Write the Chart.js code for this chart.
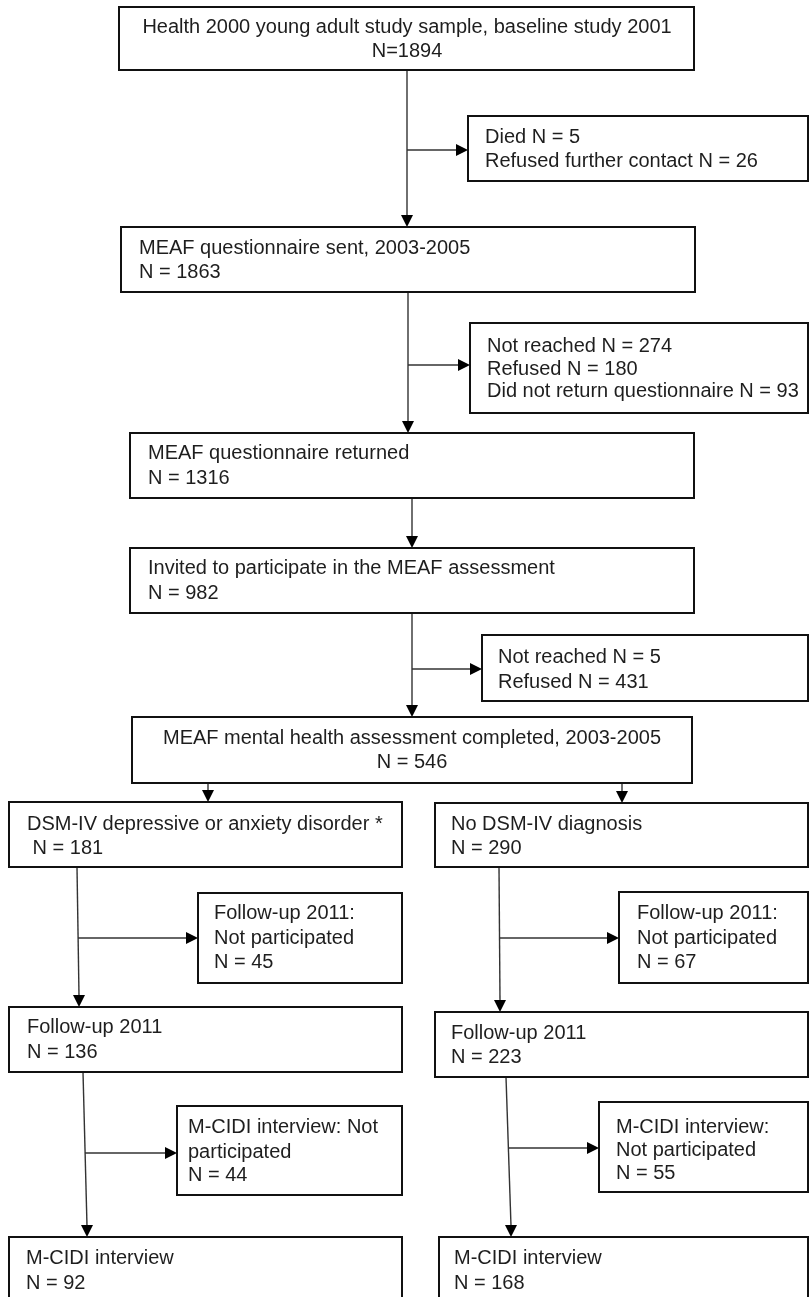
<!DOCTYPE html>
<html>
<head>
<meta charset="utf-8">
<script src="https://cdn.jsdelivr.net/npm/chart.js@4/dist/chart.umd.min.js"></script>
<style>
  html, body { margin: 0; padding: 0; background: #fff; }
  #wrap { width: 809px; height: 1297px; }
</style>
</head>
<body>
<div id="wrap"><canvas id="flow"></canvas></div>
<script>
// --- data: participants at every stage ---
const mainSteps = [
    'Health 2000 young adult study sample, baseline study 2001',
    'MEAF questionnaire sent, 2003-2005',
    'MEAF questionnaire returned',
    'Invited to participate in the MEAF assessment',
    'MEAF mental health assessment completed, 2003-2005'
];
const mainN = [1894, 1863, 1316, 982, 546];

const lossLabels1 = ['Died', 'Refused further contact'];
const lossN1 = [5, 26];
const lossLabels2 = ['Not reached', 'Refused', 'Did not return questionnaire'];
const lossN2 = [274, 180, 93];
const lossLabels3 = ['Not reached', 'Refused'];
const lossN3 = [5, 431];

const groups = ['DSM-IV depressive or anxiety disorder *', 'No DSM-IV diagnosis'];
const groupN = [181, 290];
const followUpLostN = [45, 67];
const followUpN = [136, 223];
const cidiLostN = [44, 55];
const cidiN = [92, 168];

// --- layout (in axis units, the axes run 0..809 and 0..1297) ---
const FONT = '20px "Liberation Sans", Arial, sans-serif';
const nLine = (n, tight) => tight ? `N=${n}` : `N = ${n}`;

const boxes = [
    { x0: 119, x1: 694, y0: 7, y1: 70, center: 407, rows: [27, 51],
      lines: [mainSteps[0], nLine(mainN[0], true)] },
    { x0: 468, x1: 808, y0: 116, y1: 181, tx: 485, rows: [137, 161],
      lines: lossLabels1.map((l, i) => `${l} N = ${lossN1[i]}`) },
    { x0: 121, x1: 695, y0: 227, y1: 292, tx: 139, rows: [248, 272],
      lines: [mainSteps[1], nLine(mainN[1])] },
    { x0: 470, x1: 808, y0: 323, y1: 413, tx: 487, rows: [346, 369, 391],
      lines: lossLabels2.map((l, i) => `${l} N = ${lossN2[i]}`) },
    { x0: 130, x1: 694, y0: 433, y1: 498, tx: 148, rows: [453, 478],
      lines: [mainSteps[2], nLine(mainN[2])] },
    { x0: 130, x1: 694, y0: 548, y1: 613, tx: 148, rows: [568, 593],
      lines: [mainSteps[3], nLine(mainN[3])] },
    { x0: 482, x1: 808, y0: 635, y1: 701, tx: 498, rows: [657, 682],
      lines: lossLabels3.map((l, i) => `${l} N = ${lossN3[i]}`) },
    { x0: 132, x1: 692, y0: 717, y1: 783, center: 412, rows: [738, 762],
      lines: [mainSteps[4], nLine(mainN[4])] },
    { x0: 9, x1: 402, y0: 802, y1: 867, tx: 27, rows: [824, 848],
      lines: [groups[0], ' ' + nLine(groupN[0])] },
    { x0: 435, x1: 808, y0: 803, y1: 867, tx: 451, rows: [824, 848],
      lines: [groups[1], nLine(groupN[1])] },
    { x0: 198, x1: 402, y0: 893, y1: 983, tx: 214, rows: [913, 938, 962],
      lines: ['Follow-up 2011:', 'Not participated', nLine(followUpLostN[0])] },
    { x0: 619, x1: 808, y0: 892, y1: 983, tx: 637, rows: [913, 938, 962],
      lines: ['Follow-up 2011:', 'Not participated', nLine(followUpLostN[1])] },
    { x0: 9, x1: 402, y0: 1007, y1: 1072, tx: 27, rows: [1027, 1052],
      lines: ['Follow-up 2011', nLine(followUpN[0])] },
    { x0: 435, x1: 808, y0: 1012, y1: 1077, tx: 451, rows: [1033, 1057],
      lines: ['Follow-up 2011', nLine(followUpN[1])] },
    { x0: 177, x1: 402, y0: 1106, y1: 1195, tx: 188, rows: [1127, 1152, 1175],
      lines: ['M-CIDI interview: Not', 'participated', nLine(cidiLostN[0])] },
    { x0: 599, x1: 808, y0: 1102, y1: 1192, tx: 616, rows: [1127, 1150, 1173],
      lines: ['M-CIDI interview:', 'Not participated', nLine(cidiLostN[1])] },
    { x0: 9, x1: 402, y0: 1237, y1: 1320, tx: 26, rows: [1258, 1283],
      lines: ['M-CIDI interview', nLine(cidiN[0])] },
    { x0: 439, x1: 808, y0: 1237, y1: 1320, tx: 454, rows: [1258, 1283],
      lines: ['M-CIDI interview', nLine(cidiN[1])] }
];

// vertical trunks (xa at top, xb at bottom) with optional side branch
const trunks = [
    { xa: 407, xb: 407, ya: 70, yb: 227, by: 150, bx: 468 },
    { xa: 408, xb: 408, ya: 292, yb: 433, by: 365, bx: 470 },
    { xa: 412, xb: 412, ya: 498, yb: 548 },
    { xa: 412, xb: 412, ya: 613, yb: 717, by: 669, bx: 482 },
    { xa: 208, xb: 208, ya: 783, yb: 802 },
    { xa: 622, xb: 622, ya: 783, yb: 803 },
    { xa: 77, xb: 79, ya: 867, yb: 1007, by: 938, bx: 198 },
    { xa: 499, xb: 500, ya: 867, yb: 1012, by: 938, bx: 619 },
    { xa: 83, xb: 87, ya: 1072, yb: 1237, by: 1153, bx: 177 },
    { xa: 506, xb: 511, ya: 1077, yb: 1237, by: 1148, bx: 599 }
];

function arrowHead(ctx, x, y, dir) {
    const len = 12, half = 6;
    ctx.beginPath();
    if (dir === 'down') {
        ctx.moveTo(x, y);
        ctx.lineTo(x - half, y - len);
        ctx.lineTo(x + half, y - len);
    } else {
        ctx.moveTo(x, y);
        ctx.lineTo(x - len, y - half);
        ctx.lineTo(x - len, y + half);
    }
    ctx.closePath();
    ctx.fill();
}

const flowPlugin = {
    id: 'flow',
    afterDraw(chart) {
        const ctx = chart.ctx;
        const sx = chart.scales.x, sy = chart.scales.y;
        const px = v => sx.getPixelForValue(v);
        const py = v => sy.getPixelForValue(v);
        ctx.save();

        // connectors
        ctx.strokeStyle = '#333';
        ctx.fillStyle = '#000';
        ctx.lineWidth = 1.4;
        trunks.forEach(t => {
            ctx.beginPath();
            ctx.moveTo(px(t.xa), py(t.ya));
            ctx.lineTo(px(t.xb), py(t.yb) - 11);
            ctx.stroke();
            arrowHead(ctx, px(t.xb), py(t.yb), 'down');
            if (t.by !== undefined) {
                const f = (t.by - t.ya) / (t.yb - t.ya);
                const xm = t.xa + (t.xb - t.xa) * f;
                ctx.beginPath();
                ctx.moveTo(px(xm), py(t.by));
                ctx.lineTo(px(t.bx) - 11, py(t.by));
                ctx.stroke();
                arrowHead(ctx, px(t.bx), py(t.by), 'right');
            }
        });

        // boxes + text
        boxes.forEach(b => {
            const x0 = px(b.x0), x1 = px(b.x1), y0 = py(b.y0), y1 = py(b.y1);
            ctx.fillStyle = '#fff';
            ctx.fillRect(x0, y0, x1 - x0, y1 - y0);
            ctx.strokeStyle = '#111';
            ctx.lineWidth = 2;
            ctx.strokeRect(x0, y0, x1 - x0, y1 - y0);
            ctx.fillStyle = '#1e1e1e';
            ctx.font = FONT;
            ctx.textBaseline = 'middle';
            b.lines.forEach((txt, i) => {
                if (b.center !== undefined) {
                    ctx.textAlign = 'center';
                    ctx.fillText(txt, px(b.center), py(b.rows[i]));
                } else {
                    ctx.textAlign = 'left';
                    ctx.fillText(txt, px(b.tx), py(b.rows[i]));
                }
            });
        });
        ctx.restore();
    }
};

new Chart(document.getElementById('flow'), {
    type: 'scatter',
    data: { datasets: [{ data: [], pointRadius: 0 }] },
    options: {
        responsive: true,
        maintainAspectRatio: false,
        animation: false,
        layout: { padding: 0 },
        plugins: { legend: { display: false }, tooltip: { enabled: false } },
        scales: {
            x: { type: 'linear', min: 0, max: 809, display: false },
            y: { type: 'linear', min: 0, max: 1297, reverse: true, display: false }
        }
    },
    plugins: [flowPlugin]
});
</script>
</body>
</html>
